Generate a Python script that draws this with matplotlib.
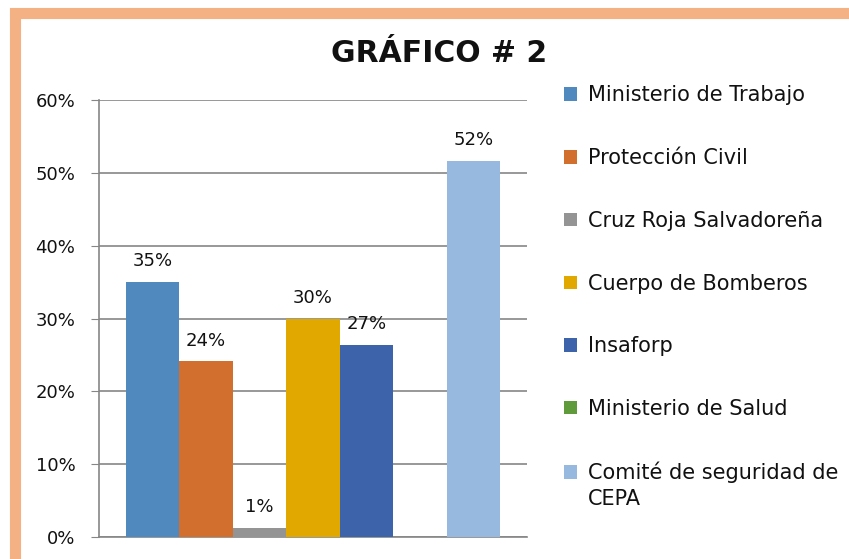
import matplotlib.pyplot as plt
from matplotlib.patches import Rectangle, Patch
from matplotlib.text import Annotation
from matplotlib.ticker import PercentFormatter

# data
entidades = ["Ministerio de Trabajo", "Protección Civil", "Cruz Roja Salvadoreña",
             "Cuerpo de Bomberos", "Insaforp", "Ministerio de Salud",
             "Comité de seguridad de"]
entidad_extra = "CEPA"  # second line of the last legend entry
valores = [0.35, 0.241, 0.013, 0.30, 0.264, 0.0, 0.517]
etiquetas = ["35%", "24%", "1%", "30%", "27%", "", "52%"]
colores = ["#4F89BD", "#D36F2E", "#949494", "#E1A900", "#3D63AB", "#5F9B3B", "#98B9DF"]
yticks = [0, 0.1, 0.2, 0.3, 0.4, 0.5, 0.6]

plt.rcParams['font.family'] = ['DejaVu Sans']

fig = plt.figure(figsize=(8.49, 5.59), dpi=100)
ax = fig.add_axes([0.1166, 0.0394, 0.5041, 0.7816])

pos = list(range(len(valores)))
bars = ax.bar(pos, valores, width=1.0, color=colores, zorder=3)
for b, t in zip(bars, etiquetas):
	ax.text(b.get_x() + b.get_width() / 2, b.get_height() + 0.016, t,
	        ha="center", va="bottom", fontsize=13, color="#111111", zorder=4)

ax.set_xlim(-1, 7)
ax.set_ylim(0, 0.6)
ax.set_yticks(yticks)
ax.yaxis.set_major_formatter(PercentFormatter(1.0, decimals=0))
ax.set_xticks([])
ax.grid(axis="y", color="#868686", linewidth=1.2, zorder=0)
for s in ["top", "right"]:
	ax.spines[s].set_visible(False)
for s in ["left", "bottom"]:
	ax.spines[s].set_color("#868686")
	ax.spines[s].set_linewidth(1.2)
ax.tick_params(axis="y", length=6, color="#868686", labelsize=13, pad=11, labelcolor="#111111")

fig.text(0.517, 0.904, "GRÁFICO # 2", ha="center", va="center",
         fontsize=21.5, fontweight="bold", color="#111111")

handles = [Patch(facecolor=c) for c in colores]
leg = fig.legend(handles, entidades, loc="upper left", bbox_to_anchor=(0.655, 0.862),
                 frameon=False, fontsize=15, handlelength=0.62, handleheight=0.62,
                 handletextpad=0.5, labelspacing=2.05, borderaxespad=0)
for t in leg.get_texts():
	t.set_color("#111111")
ultimo = leg.get_texts()[-1]
fig.add_artist(Annotation(entidad_extra, xy=(0, 0), xycoords=ultimo, xytext=(0, -4.5),
                          textcoords="offset points", ha="left", va="top",
                          fontsize=15, color="#111111", zorder=10))

# orange frame
fig.patches.append(Rectangle((15 / 849, -2 / 559), 1.2, 548 / 559,
                             transform=fig.transFigure, fill=False,
                             edgecolor="#F4B183", linewidth=8))

fig.savefig("out.png", dpi=100)
